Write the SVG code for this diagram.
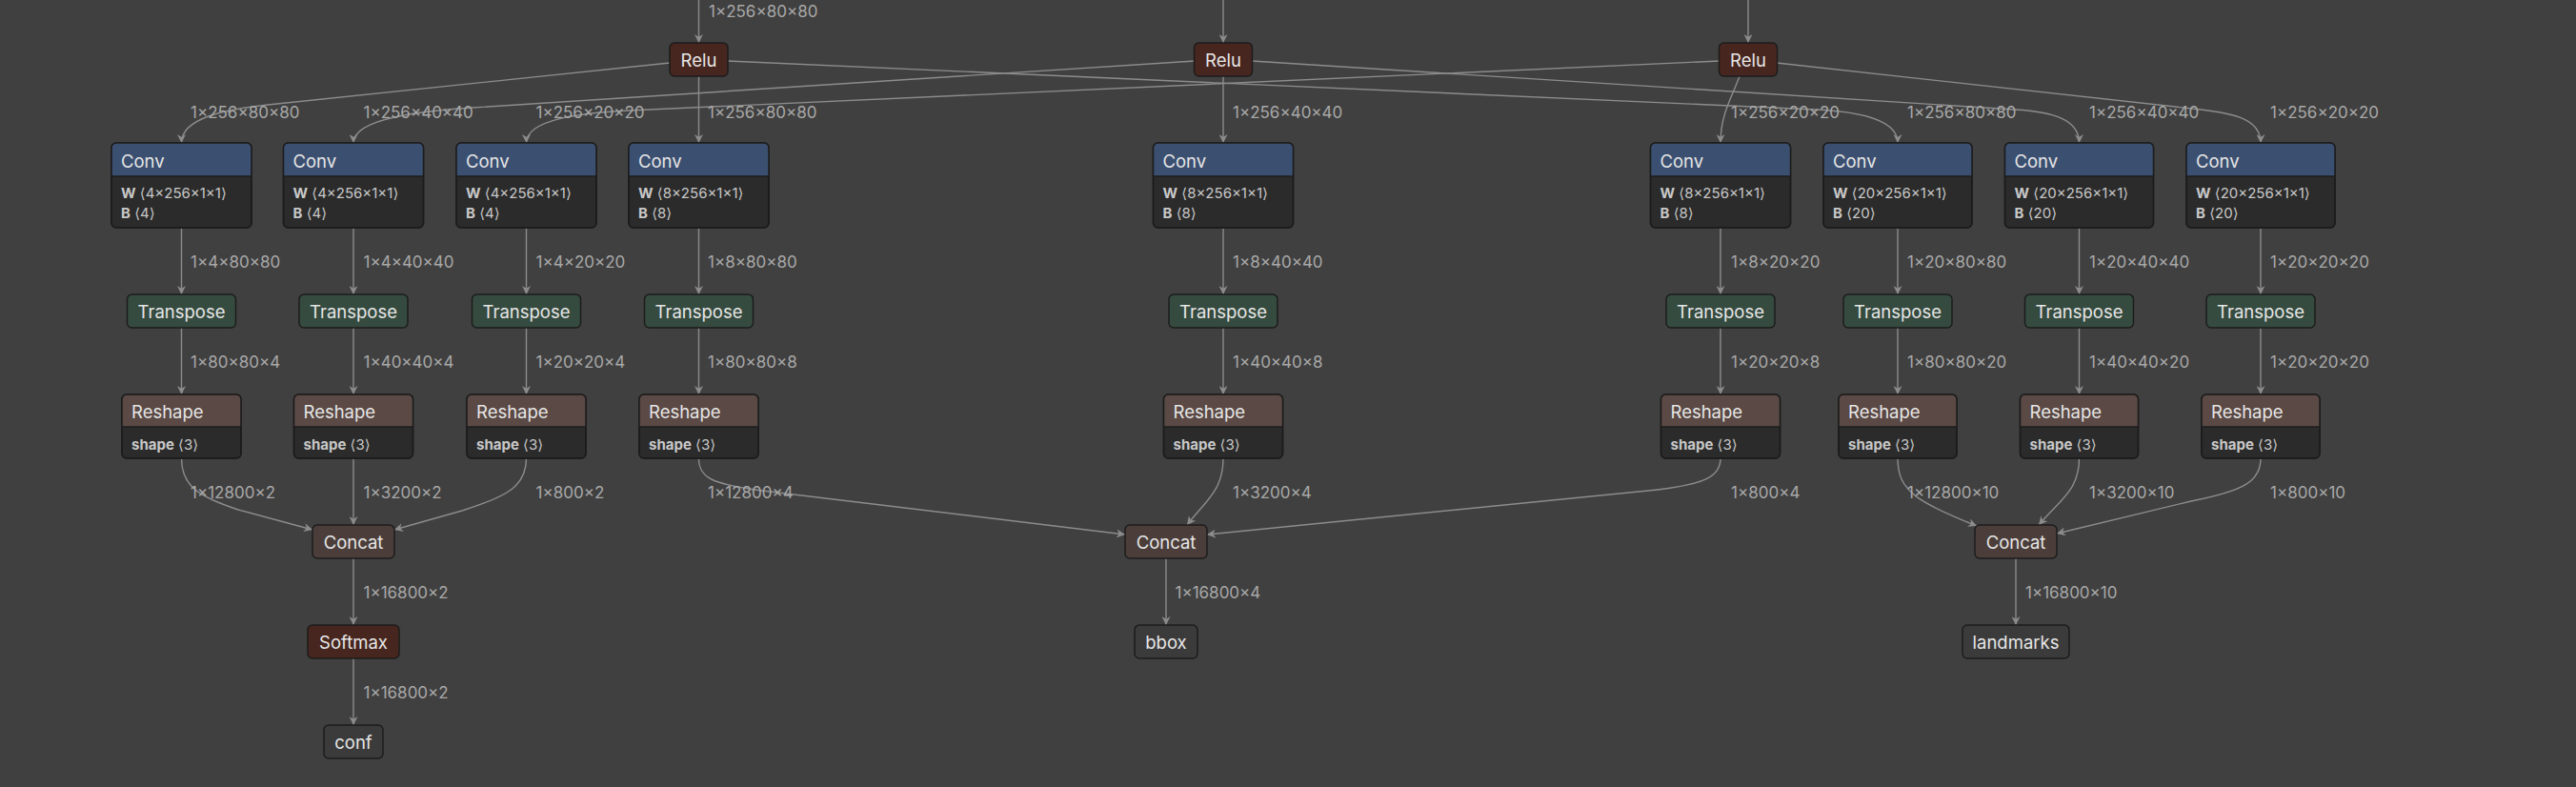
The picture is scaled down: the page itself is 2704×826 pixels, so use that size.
<svg xmlns="http://www.w3.org/2000/svg" width="2704" height="826" viewBox="0 0 2704 826">
<style>
.bg{fill:#404040}
.e{fill:none;stroke:#8c8c8c;stroke-width:1.4;marker-end:url(#arr)}
.el{font-family:Inter,"Liberation Sans",sans-serif;font-size:17px;fill:#a8a8a8}
.t{font-family:Inter,"Liberation Sans",sans-serif;font-size:18.5px;fill:#e6e6e6}
.tc{font-family:Inter,"Liberation Sans",sans-serif;font-size:18.5px;fill:#e6e6e6;text-anchor:middle}
.a{font-family:Inter,"Liberation Sans",sans-serif;font-size:15px;fill:#c8c8c8}
.k{font-family:"DejaVu Sans",sans-serif}
.b{font-weight:bold}
.bd{stroke:#1c1c1c;stroke-width:1.5}
.act{fill:#47261f}
.conv{fill:#3b4f70}
.body{fill:#2b2b2b}
.tr{fill:#354b3f}
.rs{fill:#5a4944}
.cc{fill:#4b3e3a}
.out{fill:#3b3b3b}
.sep{stroke:#1c1c1c;stroke-width:1.5}
</style>
<defs>
<marker id="arr" viewBox="0 0 10 10" refX="10" refY="5" markerWidth="9" markerHeight="9" markerUnits="userSpaceOnUse" orient="auto">
<path d="M0 0 L10 5 L0 10 L3 5 z" fill="#8c8c8c"/>
</marker>
</defs>
<rect class="bg" x="0" y="0" width="2704" height="826"/>

<g id="connectors">
<path class="e" d="M733.5 0 L733.5 45"/>
<path class="e" d="M1284 0 L1284 45"/>
<path class="e" d="M1835 0 L1835 45"/>
<path class="e" d="M703 66 L281 110 C236 114.7 190.5 124 190.5 150"/>
<path class="e" d="M733.5 80 L733.5 150"/>
<path class="e" d="M764 64 L1905 115 C1950 117 1992 125 1992 150"/>
<path class="e" d="M1254 64 L496 113 C450 116 371 123 371 150"/>
<path class="e" d="M1284 80 L1284 150"/>
<path class="e" d="M1314 64 L2115 115 C2155 117.5 2182.5 125 2182.5 150"/>
<path class="e" d="M1805 64 L660 116 C610 118.5 552.5 125 552.5 150"/>
<path class="e" d="M1826 80 C1818 102 1806 120 1806 150"/>
<path class="e" d="M1865 66 L2310 115 C2345 119 2373 125 2373 150"/>
<path class="e" d="M190.5 239 L190.5 309"/>
<path class="e" d="M371 239 L371 309"/>
<path class="e" d="M552.5 239 L552.5 309"/>
<path class="e" d="M733.5 239 L733.5 309"/>
<path class="e" d="M1284 239 L1284 309"/>
<path class="e" d="M1806 239 L1806 309"/>
<path class="e" d="M1992 239 L1992 309"/>
<path class="e" d="M2182.5 239 L2182.5 309"/>
<path class="e" d="M2373 239 L2373 309"/>
<path class="e" d="M190.5 344 L190.5 414"/>
<path class="e" d="M371 344 L371 414"/>
<path class="e" d="M552.5 344 L552.5 414"/>
<path class="e" d="M733.5 344 L733.5 414"/>
<path class="e" d="M1284 344 L1284 414"/>
<path class="e" d="M1806 344 L1806 414"/>
<path class="e" d="M1992 344 L1992 414"/>
<path class="e" d="M2182.5 344 L2182.5 414"/>
<path class="e" d="M2373 344 L2373 414"/>
<path class="e" d="M190.5 481 C190.5 510 208 521 250 535 L328 556"/>
<path class="e" d="M371 481 L371 551"/>
<path class="e" d="M552.5 481 C552.5 510 533 521 485 536 L414 556"/>
<path class="e" d="M733.5 481 C733.5 502 748 508 800 515 L1181 561"/>
<path class="e" d="M1284 481 C1284 515 1266 525 1246 551"/>
<path class="e" d="M1806 481 C1806 500 1790 508 1740 514 L1267 561"/>
<path class="e" d="M1992 481 C1992 515 2012 527 2075 552"/>
<path class="e" d="M2182.5 481 C2182.5 515 2162 525 2140 551"/>
<path class="e" d="M2373 481 C2373 505 2356 515 2300 526 L2159 560"/>
<path class="e" d="M371 586 L371 656"/>
<path class="e" d="M371 691 L371 761"/>
<path class="e" d="M1224 586 L1224 656"/>
<path class="e" d="M2116 586 L2116 656"/>
</g>

<g id="edge-labels">
<text class="el" x="744" y="18">1×256×80×80</text>
<text class="el" x="200" y="124">1×256×80×80</text>
<text class="el" x="381.5" y="124">1×256×40×40</text>
<text class="el" x="562.5" y="124">1×256×20×20</text>
<text class="el" x="743" y="124">1×256×80×80</text>
<text class="el" x="1294" y="124">1×256×40×40</text>
<text class="el" x="1817" y="124">1×256×20×20</text>
<text class="el" x="2002" y="124">1×256×80×80</text>
<text class="el" x="2193" y="124">1×256×40×40</text>
<text class="el" x="2383" y="124">1×256×20×20</text>

<text class="el" x="200" y="281">1×4×80×80</text>
<text class="el" x="381.5" y="281">1×4×40×40</text>
<text class="el" x="562.5" y="281">1×4×20×20</text>
<text class="el" x="743" y="281">1×8×80×80</text>
<text class="el" x="1294" y="281">1×8×40×40</text>
<text class="el" x="1817" y="281">1×8×20×20</text>
<text class="el" x="2002" y="281">1×20×80×80</text>
<text class="el" x="2193" y="281">1×20×40×40</text>
<text class="el" x="2383" y="281">1×20×20×20</text>

<text class="el" x="200" y="386">1×80×80×4</text>
<text class="el" x="381.5" y="386">1×40×40×4</text>
<text class="el" x="562.5" y="386">1×20×20×4</text>
<text class="el" x="743" y="386">1×80×80×8</text>
<text class="el" x="1294" y="386">1×40×40×8</text>
<text class="el" x="1817" y="386">1×20×20×8</text>
<text class="el" x="2002" y="386">1×80×80×20</text>
<text class="el" x="2193" y="386">1×40×40×20</text>
<text class="el" x="2383" y="386">1×20×20×20</text>

<text class="el" x="200" y="523">1×12800×2</text>
<text class="el" x="381.5" y="523">1×3200×2</text>
<text class="el" x="562.5" y="523">1×800×2</text>
<text class="el" x="743" y="523">1×12800×4</text>
<text class="el" x="1294" y="523">1×3200×4</text>
<text class="el" x="1817" y="523">1×800×4</text>
<text class="el" x="2002" y="523">1×12800×10</text>
<text class="el" x="2193" y="523">1×3200×10</text>
<text class="el" x="2383" y="523">1×800×10</text>

<text class="el" x="381.5" y="628">1×16800×2</text>
<text class="el" x="1233.5" y="628">1×16800×4</text>
<text class="el" x="2126" y="628">1×16800×10</text>
<text class="el" x="381.5" y="733">1×16800×2</text>
</g>

<g id="relu1"><rect class="act bd" x="703" y="45" width="61" height="35" rx="5"/><text class="tc" x="733.5" y="70">Relu</text></g>
<g id="relu2"><rect class="act bd" x="1253.5" y="45" width="61" height="35" rx="5"/><text class="tc" x="1284" y="70">Relu</text></g>
<g id="relu3"><rect class="act bd" x="1804.5" y="45" width="61" height="35" rx="5"/><text class="tc" x="1835" y="70">Relu</text></g>

<g id="conv1"><rect class="body bd" x="117" y="150" width="147" height="89" rx="5"/><path class="conv" d="M122 150 H259 A5 5 0 0 1 264 155 V185 H117 V155 A5 5 0 0 1 122 150 Z"/><rect class="bd" fill="none" x="117" y="150" width="147" height="89" rx="5"/><line class="sep" x1="117" y1="185" x2="264" y2="185"/><text class="t" x="127" y="176">Conv</text><text class="a" x="127" y="208"><tspan class="b">W</tspan> <tspan class="k">⟨</tspan>4×256×1×1<tspan class="k">⟩</tspan></text><text class="a" x="127" y="229"><tspan class="b">B</tspan> <tspan class="k">⟨</tspan>4<tspan class="k">⟩</tspan></text></g>
<g id="conv2"><rect class="body bd" x="297.5" y="150" width="147" height="89" rx="5"/><path class="conv" d="M302.5 150 H439.5 A5 5 0 0 1 444.5 155 V185 H297.5 V155 A5 5 0 0 1 302.5 150 Z"/><rect class="bd" fill="none" x="297.5" y="150" width="147" height="89" rx="5"/><line class="sep" x1="297.5" y1="185" x2="444.5" y2="185"/><text class="t" x="307.5" y="176">Conv</text><text class="a" x="307.5" y="208"><tspan class="b">W</tspan> <tspan class="k">⟨</tspan>4×256×1×1<tspan class="k">⟩</tspan></text><text class="a" x="307.5" y="229"><tspan class="b">B</tspan> <tspan class="k">⟨</tspan>4<tspan class="k">⟩</tspan></text></g>
<g id="conv3"><rect class="body bd" x="479" y="150" width="147" height="89" rx="5"/><path class="conv" d="M484 150 H621 A5 5 0 0 1 626 155 V185 H479 V155 A5 5 0 0 1 484 150 Z"/><rect class="bd" fill="none" x="479" y="150" width="147" height="89" rx="5"/><line class="sep" x1="479" y1="185" x2="626" y2="185"/><text class="t" x="489" y="176">Conv</text><text class="a" x="489" y="208"><tspan class="b">W</tspan> <tspan class="k">⟨</tspan>4×256×1×1<tspan class="k">⟩</tspan></text><text class="a" x="489" y="229"><tspan class="b">B</tspan> <tspan class="k">⟨</tspan>4<tspan class="k">⟩</tspan></text></g>
<g id="conv4"><rect class="body bd" x="660" y="150" width="147" height="89" rx="5"/><path class="conv" d="M665 150 H802 A5 5 0 0 1 807 155 V185 H660 V155 A5 5 0 0 1 665 150 Z"/><rect class="bd" fill="none" x="660" y="150" width="147" height="89" rx="5"/><line class="sep" x1="660" y1="185" x2="807" y2="185"/><text class="t" x="670" y="176">Conv</text><text class="a" x="670" y="208"><tspan class="b">W</tspan> <tspan class="k">⟨</tspan>8×256×1×1<tspan class="k">⟩</tspan></text><text class="a" x="670" y="229"><tspan class="b">B</tspan> <tspan class="k">⟨</tspan>8<tspan class="k">⟩</tspan></text></g>
<g id="conv5"><rect class="body bd" x="1210.5" y="150" width="147" height="89" rx="5"/><path class="conv" d="M1215.5 150 H1352.5 A5 5 0 0 1 1357.5 155 V185 H1210.5 V155 A5 5 0 0 1 1215.5 150 Z"/><rect class="bd" fill="none" x="1210.5" y="150" width="147" height="89" rx="5"/><line class="sep" x1="1210.5" y1="185" x2="1357.5" y2="185"/><text class="t" x="1220.5" y="176">Conv</text><text class="a" x="1220.5" y="208"><tspan class="b">W</tspan> <tspan class="k">⟨</tspan>8×256×1×1<tspan class="k">⟩</tspan></text><text class="a" x="1220.5" y="229"><tspan class="b">B</tspan> <tspan class="k">⟨</tspan>8<tspan class="k">⟩</tspan></text></g>
<g id="conv6"><rect class="body bd" x="1732.5" y="150" width="147" height="89" rx="5"/><path class="conv" d="M1737.5 150 H1874.5 A5 5 0 0 1 1879.5 155 V185 H1732.5 V155 A5 5 0 0 1 1737.5 150 Z"/><rect class="bd" fill="none" x="1732.5" y="150" width="147" height="89" rx="5"/><line class="sep" x1="1732.5" y1="185" x2="1879.5" y2="185"/><text class="t" x="1742.5" y="176">Conv</text><text class="a" x="1742.5" y="208"><tspan class="b">W</tspan> <tspan class="k">⟨</tspan>8×256×1×1<tspan class="k">⟩</tspan></text><text class="a" x="1742.5" y="229"><tspan class="b">B</tspan> <tspan class="k">⟨</tspan>8<tspan class="k">⟩</tspan></text></g>
<g id="conv7"><rect class="body bd" x="1914" y="150" width="156" height="89" rx="5"/><path class="conv" d="M1919 150 H2065 A5 5 0 0 1 2070 155 V185 H1914 V155 A5 5 0 0 1 1919 150 Z"/><rect class="bd" fill="none" x="1914" y="150" width="156" height="89" rx="5"/><line class="sep" x1="1914" y1="185" x2="2070" y2="185"/><text class="t" x="1924" y="176">Conv</text><text class="a" x="1924" y="208"><tspan class="b">W</tspan> <tspan class="k">⟨</tspan>20×256×1×1<tspan class="k">⟩</tspan></text><text class="a" x="1924" y="229"><tspan class="b">B</tspan> <tspan class="k">⟨</tspan>20<tspan class="k">⟩</tspan></text></g>
<g id="conv8"><rect class="body bd" x="2104.5" y="150" width="156" height="89" rx="5"/><path class="conv" d="M2109.5 150 H2255.5 A5 5 0 0 1 2260.5 155 V185 H2104.5 V155 A5 5 0 0 1 2109.5 150 Z"/><rect class="bd" fill="none" x="2104.5" y="150" width="156" height="89" rx="5"/><line class="sep" x1="2104.5" y1="185" x2="2260.5" y2="185"/><text class="t" x="2114.5" y="176">Conv</text><text class="a" x="2114.5" y="208"><tspan class="b">W</tspan> <tspan class="k">⟨</tspan>20×256×1×1<tspan class="k">⟩</tspan></text><text class="a" x="2114.5" y="229"><tspan class="b">B</tspan> <tspan class="k">⟨</tspan>20<tspan class="k">⟩</tspan></text></g>
<g id="conv9"><rect class="body bd" x="2295" y="150" width="156" height="89" rx="5"/><path class="conv" d="M2300 150 H2446 A5 5 0 0 1 2451 155 V185 H2295 V155 A5 5 0 0 1 2300 150 Z"/><rect class="bd" fill="none" x="2295" y="150" width="156" height="89" rx="5"/><line class="sep" x1="2295" y1="185" x2="2451" y2="185"/><text class="t" x="2305" y="176">Conv</text><text class="a" x="2305" y="208"><tspan class="b">W</tspan> <tspan class="k">⟨</tspan>20×256×1×1<tspan class="k">⟩</tspan></text><text class="a" x="2305" y="229"><tspan class="b">B</tspan> <tspan class="k">⟨</tspan>20<tspan class="k">⟩</tspan></text></g>

<g id="transpose1"><rect class="tr bd" x="133.5" y="309" width="114" height="35" rx="5"/><text class="tc" x="190.5" y="334">Transpose</text></g>
<g id="transpose2"><rect class="tr bd" x="314" y="309" width="114" height="35" rx="5"/><text class="tc" x="371" y="334">Transpose</text></g>
<g id="transpose3"><rect class="tr bd" x="495.5" y="309" width="114" height="35" rx="5"/><text class="tc" x="552.5" y="334">Transpose</text></g>
<g id="transpose4"><rect class="tr bd" x="676.5" y="309" width="114" height="35" rx="5"/><text class="tc" x="733.5" y="334">Transpose</text></g>
<g id="transpose5"><rect class="tr bd" x="1227" y="309" width="114" height="35" rx="5"/><text class="tc" x="1284" y="334">Transpose</text></g>
<g id="transpose6"><rect class="tr bd" x="1749" y="309" width="114" height="35" rx="5"/><text class="tc" x="1806" y="334">Transpose</text></g>
<g id="transpose7"><rect class="tr bd" x="1935" y="309" width="114" height="35" rx="5"/><text class="tc" x="1992" y="334">Transpose</text></g>
<g id="transpose8"><rect class="tr bd" x="2125.5" y="309" width="114" height="35" rx="5"/><text class="tc" x="2182.5" y="334">Transpose</text></g>
<g id="transpose9"><rect class="tr bd" x="2316" y="309" width="114" height="35" rx="5"/><text class="tc" x="2373" y="334">Transpose</text></g>

<g id="reshape1"><rect class="body bd" x="128" y="414" width="125" height="67" rx="5"/><path class="rs" d="M133 414 H248 A5 5 0 0 1 253 419 V448 H128 V419 A5 5 0 0 1 133 414 Z"/><rect class="bd" fill="none" x="128" y="414" width="125" height="67" rx="5"/><line class="sep" x1="128" y1="448" x2="253" y2="448"/><text class="t" x="138" y="439">Reshape</text><text class="a" x="138" y="472"><tspan class="b">shape</tspan> <tspan class="k">⟨</tspan>3<tspan class="k">⟩</tspan></text></g>
<g id="reshape2"><rect class="body bd" x="308.5" y="414" width="125" height="67" rx="5"/><path class="rs" d="M313.5 414 H428.5 A5 5 0 0 1 433.5 419 V448 H308.5 V419 A5 5 0 0 1 313.5 414 Z"/><rect class="bd" fill="none" x="308.5" y="414" width="125" height="67" rx="5"/><line class="sep" x1="308.5" y1="448" x2="433.5" y2="448"/><text class="t" x="318.5" y="439">Reshape</text><text class="a" x="318.5" y="472"><tspan class="b">shape</tspan> <tspan class="k">⟨</tspan>3<tspan class="k">⟩</tspan></text></g>
<g id="reshape3"><rect class="body bd" x="490" y="414" width="125" height="67" rx="5"/><path class="rs" d="M495 414 H610 A5 5 0 0 1 615 419 V448 H490 V419 A5 5 0 0 1 495 414 Z"/><rect class="bd" fill="none" x="490" y="414" width="125" height="67" rx="5"/><line class="sep" x1="490" y1="448" x2="615" y2="448"/><text class="t" x="500" y="439">Reshape</text><text class="a" x="500" y="472"><tspan class="b">shape</tspan> <tspan class="k">⟨</tspan>3<tspan class="k">⟩</tspan></text></g>
<g id="reshape4"><rect class="body bd" x="671" y="414" width="125" height="67" rx="5"/><path class="rs" d="M676 414 H791 A5 5 0 0 1 796 419 V448 H671 V419 A5 5 0 0 1 676 414 Z"/><rect class="bd" fill="none" x="671" y="414" width="125" height="67" rx="5"/><line class="sep" x1="671" y1="448" x2="796" y2="448"/><text class="t" x="681" y="439">Reshape</text><text class="a" x="681" y="472"><tspan class="b">shape</tspan> <tspan class="k">⟨</tspan>3<tspan class="k">⟩</tspan></text></g>
<g id="reshape5"><rect class="body bd" x="1221.5" y="414" width="125" height="67" rx="5"/><path class="rs" d="M1226.5 414 H1341.5 A5 5 0 0 1 1346.5 419 V448 H1221.5 V419 A5 5 0 0 1 1226.5 414 Z"/><rect class="bd" fill="none" x="1221.5" y="414" width="125" height="67" rx="5"/><line class="sep" x1="1221.5" y1="448" x2="1346.5" y2="448"/><text class="t" x="1231.5" y="439">Reshape</text><text class="a" x="1231.5" y="472"><tspan class="b">shape</tspan> <tspan class="k">⟨</tspan>3<tspan class="k">⟩</tspan></text></g>
<g id="reshape6"><rect class="body bd" x="1743.5" y="414" width="125" height="67" rx="5"/><path class="rs" d="M1748.5 414 H1863.5 A5 5 0 0 1 1868.5 419 V448 H1743.5 V419 A5 5 0 0 1 1748.5 414 Z"/><rect class="bd" fill="none" x="1743.5" y="414" width="125" height="67" rx="5"/><line class="sep" x1="1743.5" y1="448" x2="1868.5" y2="448"/><text class="t" x="1753.5" y="439">Reshape</text><text class="a" x="1753.5" y="472"><tspan class="b">shape</tspan> <tspan class="k">⟨</tspan>3<tspan class="k">⟩</tspan></text></g>
<g id="reshape7"><rect class="body bd" x="1930" y="414" width="124" height="67" rx="5"/><path class="rs" d="M1935 414 H2049 A5 5 0 0 1 2054 419 V448 H1930 V419 A5 5 0 0 1 1935 414 Z"/><rect class="bd" fill="none" x="1930" y="414" width="124" height="67" rx="5"/><line class="sep" x1="1930" y1="448" x2="2054" y2="448"/><text class="t" x="1940" y="439">Reshape</text><text class="a" x="1940" y="472"><tspan class="b">shape</tspan> <tspan class="k">⟨</tspan>3<tspan class="k">⟩</tspan></text></g>
<g id="reshape8"><rect class="body bd" x="2120.5" y="414" width="124" height="67" rx="5"/><path class="rs" d="M2125.5 414 H2239.5 A5 5 0 0 1 2244.5 419 V448 H2120.5 V419 A5 5 0 0 1 2125.5 414 Z"/><rect class="bd" fill="none" x="2120.5" y="414" width="124" height="67" rx="5"/><line class="sep" x1="2120.5" y1="448" x2="2244.5" y2="448"/><text class="t" x="2130.5" y="439">Reshape</text><text class="a" x="2130.5" y="472"><tspan class="b">shape</tspan> <tspan class="k">⟨</tspan>3<tspan class="k">⟩</tspan></text></g>
<g id="reshape9"><rect class="body bd" x="2311" y="414" width="124" height="67" rx="5"/><path class="rs" d="M2316 414 H2430 A5 5 0 0 1 2435 419 V448 H2311 V419 A5 5 0 0 1 2316 414 Z"/><rect class="bd" fill="none" x="2311" y="414" width="124" height="67" rx="5"/><line class="sep" x1="2311" y1="448" x2="2435" y2="448"/><text class="t" x="2321" y="439">Reshape</text><text class="a" x="2321" y="472"><tspan class="b">shape</tspan> <tspan class="k">⟨</tspan>3<tspan class="k">⟩</tspan></text></g>

<g id="concat1"><rect class="cc bd" x="328" y="551" width="86" height="35" rx="5"/><text class="tc" x="371" y="576">Concat</text></g>
<g id="concat2"><rect class="cc bd" x="1181" y="551" width="86" height="35" rx="5"/><text class="tc" x="1224" y="576">Concat</text></g>
<g id="concat3"><rect class="cc bd" x="2073" y="551" width="86" height="35" rx="5"/><text class="tc" x="2116" y="576">Concat</text></g>

<g id="softmax"><rect class="act bd" x="323" y="656" width="96" height="35" rx="5"/><text class="tc" x="371" y="681">Softmax</text></g>
<g id="conf"><rect class="out bd" x="340" y="761" width="62" height="35" rx="5"/><text class="tc" x="371" y="786">conf</text></g>
<g id="bbox"><rect class="out bd" x="1191" y="656" width="66" height="35" rx="5"/><text class="tc" x="1224" y="681">bbox</text></g>
<g id="landmarks"><rect class="out bd" x="2060" y="656" width="112" height="35" rx="5"/><text class="tc" x="2116" y="681">landmarks</text></g>
</svg>
